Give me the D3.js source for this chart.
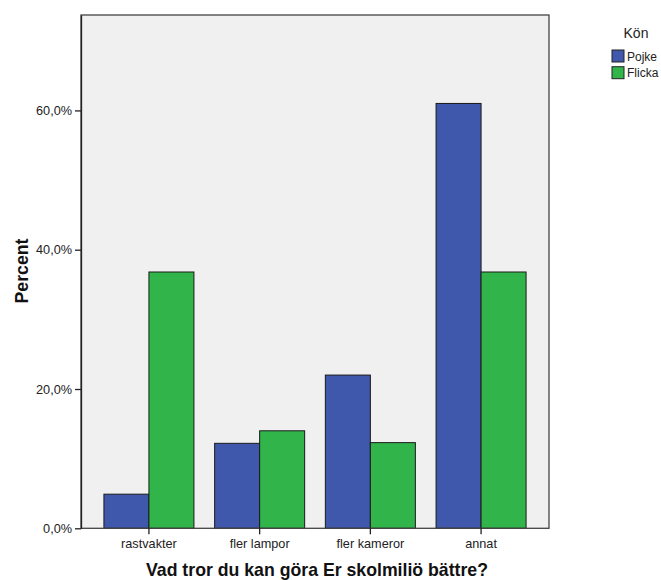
<!DOCTYPE html>
<html><head><meta charset="utf-8">
<script src="https://cdn.jsdelivr.net/npm/d3@7"></script>
<style>body{margin:0;background:#fff}text{font-family:"Liberation Sans",Arial,sans-serif}</style>
</head><body><svg id="c" width="661" height="580"></svg>
<script>
const categories = ["rastvakter","fler lampor","fler kameror","annat"];
const seriesNames = ["Pojke","Flicka"];
const pojke = [4.9, 12.2, 22.0, 61.0];
const flicka = [36.8, 14.0, 12.3, 36.8];
const yTicks = [0, 20, 40, 60];
const colors = ["#3f58ab", "#31b54b"];

const svg = d3.select("#c");
const L = 81, R = 549, T = 15, B = 528.3;
const x = d3.scaleBand().domain(categories).range([L, R]).paddingInner(0.187).paddingOuter(0.207);
const xs = d3.scaleBand().domain(seriesNames).range([0, x.bandwidth()]);
const y = d3.scaleLinear().domain([0, 73.7]).range([B, T]);

svg.append("rect").attr("x", L).attr("y", T).attr("width", R - L).attr("height", B - T)
  .attr("fill", "#f0f0f0");

const data = [pojke, flicka];
categories.forEach((c, i) => {
  seriesNames.forEach((s, j) => {
    const v = data[j][i];
    svg.append("rect")
      .attr("x", x(c) + xs(s)).attr("y", y(v))
      .attr("width", xs.bandwidth()).attr("height", y(0) - y(v))
      .attr("fill", colors[j]).attr("stroke", "#1a1a1a").attr("stroke-width", 1);
  });
});

svg.append("rect").attr("x", L).attr("y", T).attr("width", R - L).attr("height", B - T)
  .attr("fill", "none").attr("stroke", "#444").attr("stroke-width", 1.3);

const yAxis = svg.append("g").attr("transform", `translate(${L},0)`)
  .call(d3.axisLeft(y).tickValues(yTicks).tickSize(6).tickSizeOuter(0).tickPadding(3)
    .tickFormat(d => d3.format(".1f")(d).replace(".", ",") + "%"));
yAxis.select(".domain").attr("stroke", "#222").attr("stroke-width", 1.3);
yAxis.selectAll(".tick line").attr("stroke", "#222").attr("stroke-width", 1.3);
yAxis.selectAll("text").attr("font-size", 12.7).attr("fill", "#222")
  .style("font-family", '"Liberation Sans",Arial,sans-serif');

const xAxis = svg.append("g").attr("transform", `translate(0,${B})`)
  .call(d3.axisBottom(x).tickSize(6).tickPadding(5).tickSizeOuter(0));
xAxis.select(".domain").remove();
xAxis.selectAll(".tick line").attr("stroke", "#222").attr("stroke-width", 1.3);
xAxis.selectAll("text").attr("font-size", 12.7).attr("fill", "#222")
  .style("font-family", '"Liberation Sans",Arial,sans-serif');

svg.append("text").attr("x", 317).attr("y", 576).attr("text-anchor", "middle")
  .attr("font-size", 17.7).attr("font-weight", "bold").attr("fill", "#111")
  .text("Vad tror du kan göra Er skolmiliö bättre?");
svg.append("text").attr("transform", "translate(27.5,271) rotate(-90)").attr("text-anchor", "middle")
  .attr("font-size", 17.7).attr("font-weight", "bold").attr("fill", "#111").text("Percent");

svg.append("text").attr("x", 636).attr("y", 38).attr("text-anchor", "middle")
  .attr("font-size", 14).attr("fill", "#222").text("Kön");
seriesNames.forEach((s, j) => {
  const yy = 50 + j * 16.7;
  svg.append("rect").attr("x", 612).attr("y", yy).attr("width", 12).attr("height", 12)
    .attr("fill", colors[j]).attr("stroke", "#222").attr("stroke-width", 1);
  svg.append("text").attr("x", 627).attr("y", yy + 10.5).attr("font-size", 12)
    .attr("fill", "#222").text(s);
});
</script></body></html>
